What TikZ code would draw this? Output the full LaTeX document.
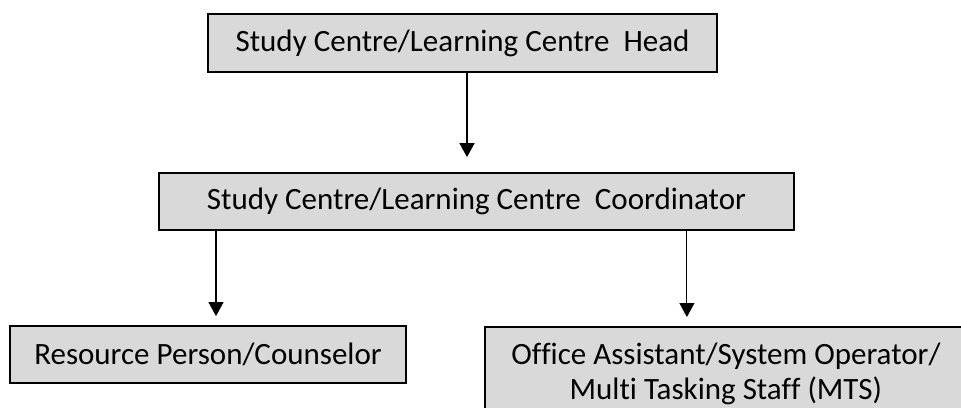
\documentclass[tikz,border=0pt]{standalone}
\usepackage{fontspec}
\setmainfont{Carlito}[Ligatures={NoCommon,NoContextual}]
\usetikzlibrary{arrows.meta}
\newcommand{\nolig}{\kern0pt}

\begin{document}
\begin{tikzpicture}[x=1pt, y=-1pt,
	box/.style={draw, line width=1.8pt, fill=gray!30, rectangle, inner sep=0pt,
		font=\fontsize{31}{35}\selectfont},
	arr/.style={-{Triangle[length=14pt,width=15pt]}, line width=1.3pt}]
	\useasboundingbox (0,0) rectangle (961,407);
	
	\node [box, minimum width=509pt, minimum height=58pt] (head) at (462.5,43)
		{Study Centre/Learning Centre~~Head};
	\node [box, minimum width=635pt, minimum height=57pt] (coord) at (476.5,201.5)
		{Study Centre/Learning Centre~~Coordinator};
	\node [box, minimum width=396pt, minimum height=57pt] (resource) at (208,354.5)
		{Resource Person/Counselor};
	\node [box, anchor=north west, minimum width=482pt, inner ysep=16.5pt, align=center]
		(office) at (484,326)
		{Of\nolig f\nolig ice Assistant/System Operator/\\Mul\nolig ti Tasking Staf\nolig f (MTS)};
	
	\draw [arr, shorten >=15pt] ([xshift=4.5pt]head.south) -- ([xshift=4.5pt]head.south |- coord.north);
	\draw [arr, shorten >=9pt] ([xshift=8pt]resource.north |- coord.south) -- ([xshift=8pt]resource.north);
	\draw [arr, line width=0.9pt, shorten >=9pt] ([xshift=-39pt]office.north |- coord.south) -- ([xshift=-39pt]office.north);
	
\end{tikzpicture}
\end{document}
